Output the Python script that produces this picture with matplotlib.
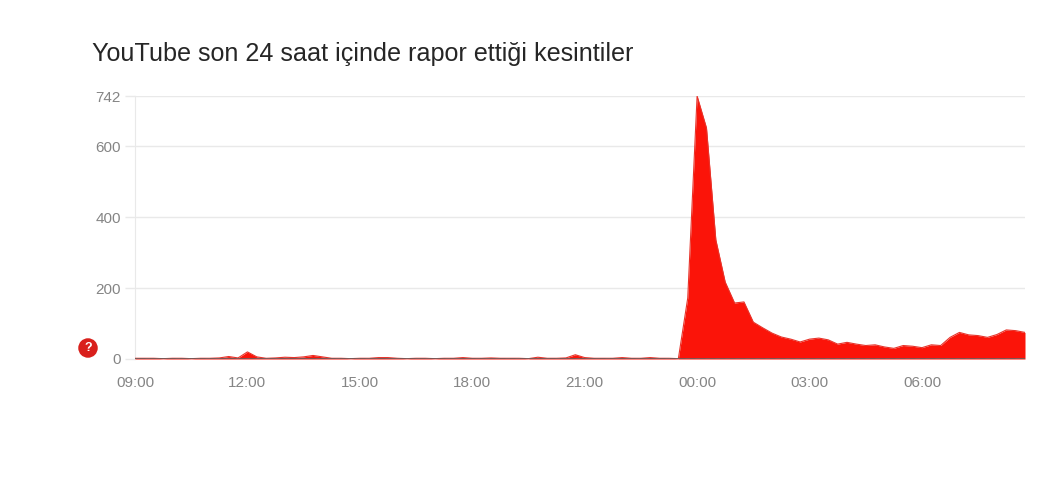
import numpy as np
import matplotlib
matplotlib.use("Agg")
import matplotlib.pyplot as plt

plt.rcParams["font.family"] = ["Liberation Sans", "DejaVu Sans"]

TITLE = "YouTube son 24 saat içinde rapor ettiği kesintiler"

# one report count per 15 minutes, 09:00 to 08:45 next day
REPORTS = [
    2, 2, 2, 1, 2, 2, 1, 2, 2, 3,
    7, 3, 20, 6, 2, 3, 5, 4, 6, 10,
    6, 2, 2, 1, 2, 2, 4, 4, 2, 1,
    2, 2, 1, 2, 2, 4, 2, 2, 3, 2,
    2, 2, 1, 5, 2, 2, 3, 12, 4, 2,
    2, 2, 4, 2, 2, 4, 2, 2, 1,
    172, 742, 652, 336, 217, 158, 161, 104, 88, 73,
    62, 56, 48, 56, 59, 54, 42, 47, 42, 38,
    40, 34, 30, 38, 36, 32, 40, 38, 61, 75,
    68, 66, 61, 69, 82, 80, 75,
]
Y_TICKS = [0, 200, 400, 600, 742]
X_TICK_POS = [0, 12, 24, 36, 48, 60, 72, 84]
X_TICK_LABELS = ["09:00", "12:00", "15:00", "18:00", "21:00", "00:00", "03:00", "06:00"]


def main():
    W, H = 1063, 487
    fig = plt.figure(figsize=(W / 100, H / 100), dpi=100, facecolor="white")
    ax = fig.add_axes([135 / W, 1 - 359 / H, (1025 - 135) / W, (359 - 96) / H])

    x = np.arange(len(REPORTS))
    ax.fill_between(x, REPORTS, 0, color="#fb1409", lw=0, zorder=3)
    ax.plot(x, REPORTS, color="#e8332a", lw=0.8, zorder=3)
    # baseline, grey with a broken look where it crosses the red
    ax.axhline(0, color="#6b5a5a", lw=1.3, zorder=4)
    ax.axhline(0, color="#f6b5ae", lw=0.8, ls=(0, (4, 5)), zorder=5)

    ax.set_xlim(0, len(REPORTS) - 1)
    ax.set_ylim(0, 742)
    ax.set_yticks(Y_TICKS)
    ax.set_xticks(X_TICK_POS)
    ax.set_xticklabels(X_TICK_LABELS)
    ax.grid(axis="y", color="#e9e9e9", lw=1, zorder=0)
    ax.set_axisbelow(True)
    ax.tick_params(axis="y", length=7, width=1, color="#e9e9e9", pad=3,
                   labelsize=11, labelcolor="#858585")
    ax.tick_params(axis="x", length=0, pad=12, labelsize=11, labelcolor="#858585")
    for s in ["top", "right", "bottom"]:
        ax.spines[s].set_visible(False)
    ax.spines["left"].set_color("#e9e9e9")

    fig.text(92 / W, 1 - 53.5 / H, TITLE, fontsize=18.1, color="#262626",
             ha="left", va="center")
    fig.text(88 / W, 1 - 348 / H, "?", fontsize=9, fontweight="bold", color="white",
             ha="center", va="center",
             bbox=dict(boxstyle="circle,pad=0.3", fc="#d9201c", ec="none"))

    fig.savefig("out.png", dpi=100)


if __name__ == "__main__":
    main()
